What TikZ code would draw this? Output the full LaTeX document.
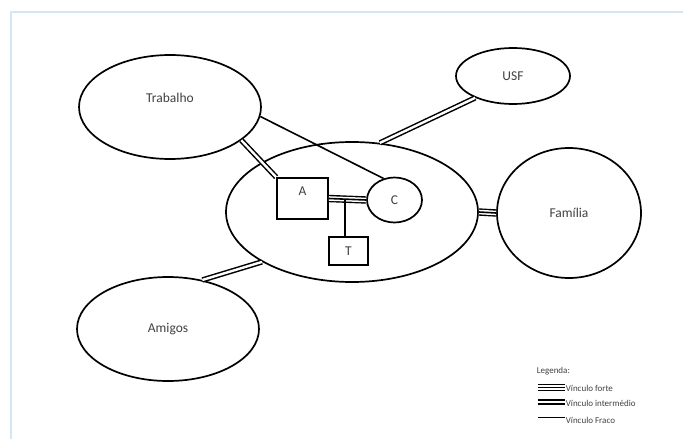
\documentclass[tikz,border=0pt]{standalone}
\usepackage{fontspec}
\setmainfont{Carlito}
\usetikzlibrary{shapes.geometric,calc}
\definecolor{moldura}{HTML}{D6E5F3}
\definecolor{texto}{HTML}{404040}
\begin{document}
\begin{tikzpicture}[x=1pt, y=-1pt, line width=1.7pt,
        every node/.style={draw, line width=1.7pt, inner sep=0pt, font=\fontsize{13.5}{15}\selectfont, text=texto},
        esfera/.style={ellipse},
        membro/.style={rectangle},
        fraco/.style={line width=1.6pt},
        medio/.style={double, double distance=2.4pt, line width=1.5pt},
        forte/.style={double, double distance=4.6pt, line width=1.4pt}]
    \useasboundingbox (0,0) rectangle (683,439);
    \draw[moldura, line width=1.5pt] (11,439) -- (11,12) -- (683,12);
    % esferas
    \node[esfera, minimum width=182, minimum height=104, text depth=18pt] (trab) at (170,107) {Trabalho};
    \node[esfera, minimum width=114, minimum height=56, text depth=-4pt] (usf) at (513,76) {USF};
    \node[esfera, minimum width=252, minimum height=140] (fam0) at (352,212) {};
    \node[esfera, minimum width=144, minimum height=130] (fam) at (569,213) {Família};
    \node[esfera, minimum width=182, minimum height=104] (amig) at (168,329) {Amigos};
    % familia nuclear
    \node[membro, minimum width=51, minimum height=41, text depth=14pt] (A) at (302.5,198.5) {A};
    \node[esfera, minimum width=55, minimum height=45] (C) at (394.5,200) {C};
    \node[membro, minimum width=39, minimum height=28] (T) at (348.5,251) {T};
    % vinculos
    \draw[forte] (A.east) -- (C.west);
    \draw[fraco] (A.east) -- (C.west);
    \coordinate (m) at ($(A.east)!0.44!(C.west)$);
    \draw[fraco] (m) -- (m |- T.north);
    \draw[medio] (trab.-25) -- (A.north west);
    \draw[fraco] (trab.-6) -- (C.117);
    \draw[medio] (usf.210) -- (fam0.68);
    \draw[forte] (fam0.east) -- (fam.west);
    \draw[fraco] (fam0.east) -- (fam.west);
    \draw[medio] (amig.55) -- (fam0.209);
    % legenda
    \begin{scope}[every node/.style={font=\fontsize{9}{10}\selectfont, text=texto, inner sep=0pt, anchor=west}]
        \node (leg) at (536,371) {Legenda:};
        \coordinate (l1) at (538,387.5);
        \coordinate (l2) at (538,402);
        \coordinate (l3) at (538,417.5);
        \node (t1) at (565,388) {Vínculo forte};
        \node (t2) at (565,403.5) {Vínculo intermédio};
        \node (t3) at (565,420) {Vínculo Fraco};
        \draw[forte] (l1) -- (l1 -| t1.west);
        \draw[fraco] (l1) -- (l1 -| t1.west);
        \draw[medio] (l2) -- (l2 -| t2.west);
        \draw[fraco] (l3) -- (l3 -| t3.west);
    \end{scope}
\end{tikzpicture}
\end{document}
